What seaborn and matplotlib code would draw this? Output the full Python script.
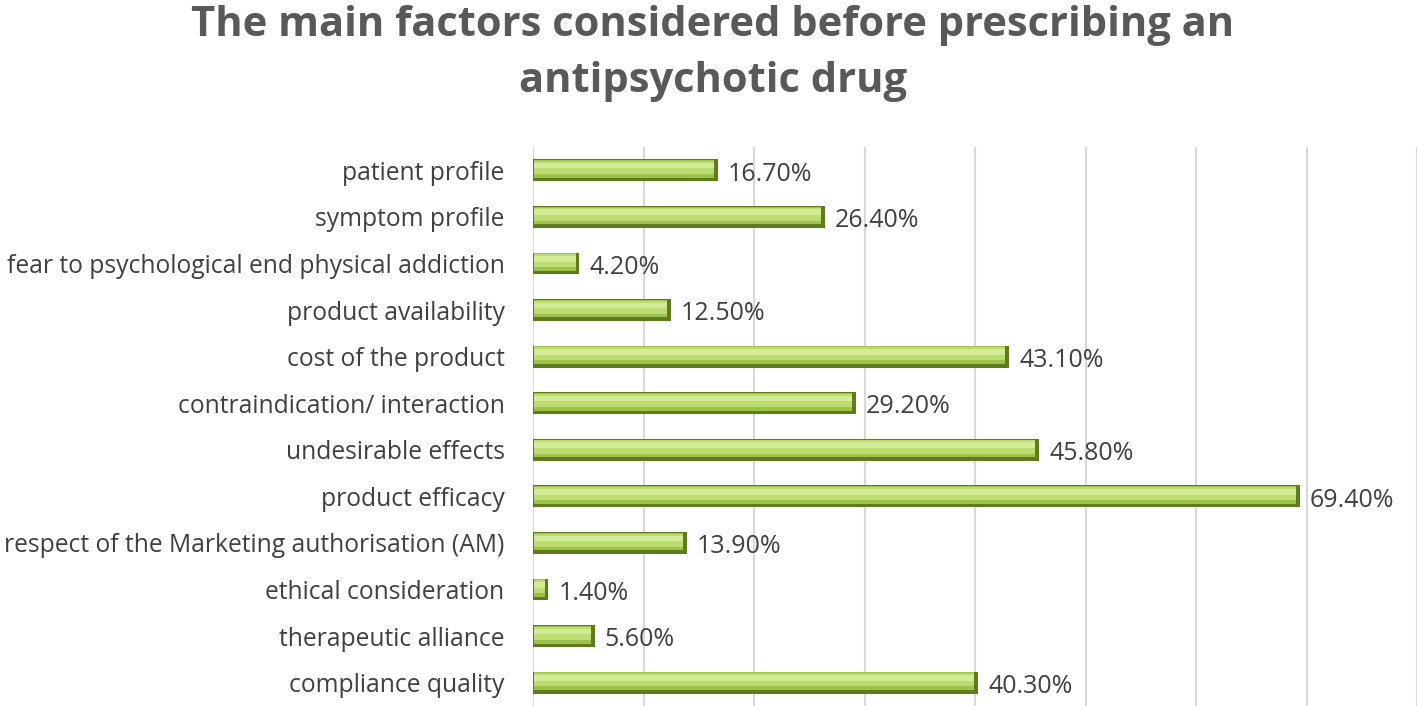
import seaborn as sns
import matplotlib.pyplot as plt
import pandas as pd

factors = [
    "patient profile",
    "symptom profile",
    "fear to psychological end physical addiction",
    "product availability",
    "cost of the product",
    "contraindication/ interaction",
    "undesirable effects",
    "product efficacy",
    "respect of the Marketing authorisation (AM)",
    "ethical consideration",
    "therapeutic alliance",
    "compliance quality",
]
percent = [16.7, 26.4, 4.2, 12.5, 43.1, 29.2, 45.8, 69.4, 13.9, 1.4, 5.6, 40.3]

df = pd.DataFrame({"factor": factors, "percent": percent})

sns.set_style("white")
plt.rcParams["font.family"] = ["Open Sans", "DejaVu Sans"]

fig = plt.figure(figsize=(14.17, 7.06), dpi=100)
ax = fig.add_axes([533 / 1417, 0.0, 884 / 1417, 1 - 147 / 706])

n = len(factors)
# bevelled bar look: dark base, green face, light highlight band
layers = [
    ("#5e7c1e", 0.47, 0.0, 0.0),
    ("#9cc24a", 0.38, 0.35, -0.03),
    ("#bcdc72", 0.28, 0.35, -0.06),
    ("#d2eb96", 0.12, 0.35, -0.10),
]
for k, (col, w, shrink, dy) in enumerate(layers):
    sns.barplot(data=df, x="percent", y="factor", orient="h", color=col,
                saturation=1, width=w, linewidth=0, ax=ax, zorder=2 + k)
    if k:
        for p in ax.patches[k * n:(k + 1) * n]:
            p.set_x(0.08)
            p.set_width(max(p.get_width() - shrink - 0.08, 0.05))
            p.set_y(p.get_y() + dy)

ax.set_xlim(0, 80)
ax.set_ylim(n - 0.5, -0.5)
ax.set_xticks(range(0, 81, 10))
ax.grid(axis="x", color="#d9d9d9", linewidth=1.5, zorder=0)
ax.tick_params(axis="x", bottom=False, labelbottom=False)
ax.tick_params(axis="y", left=False, labelsize=17.7, labelcolor="#404040", pad=17)
ax.set_xlabel("")
ax.set_ylabel("")
for s in ax.spines.values():
    s.set_visible(False)

for i, v in enumerate(percent):
    ax.text(v + 0.9, i + 0.08, f"{v:.2f}%", va="center", ha="left",
            fontsize=18, color="#404040")

fig.text(0.503, 0.993, "The main factors considered before prescribing an\nantipsychotic drug",
         ha="center", va="top", fontsize=30, fontweight="bold", color="#595959",
         linespacing=1.48)

fig.savefig("out.png", dpi=100)
